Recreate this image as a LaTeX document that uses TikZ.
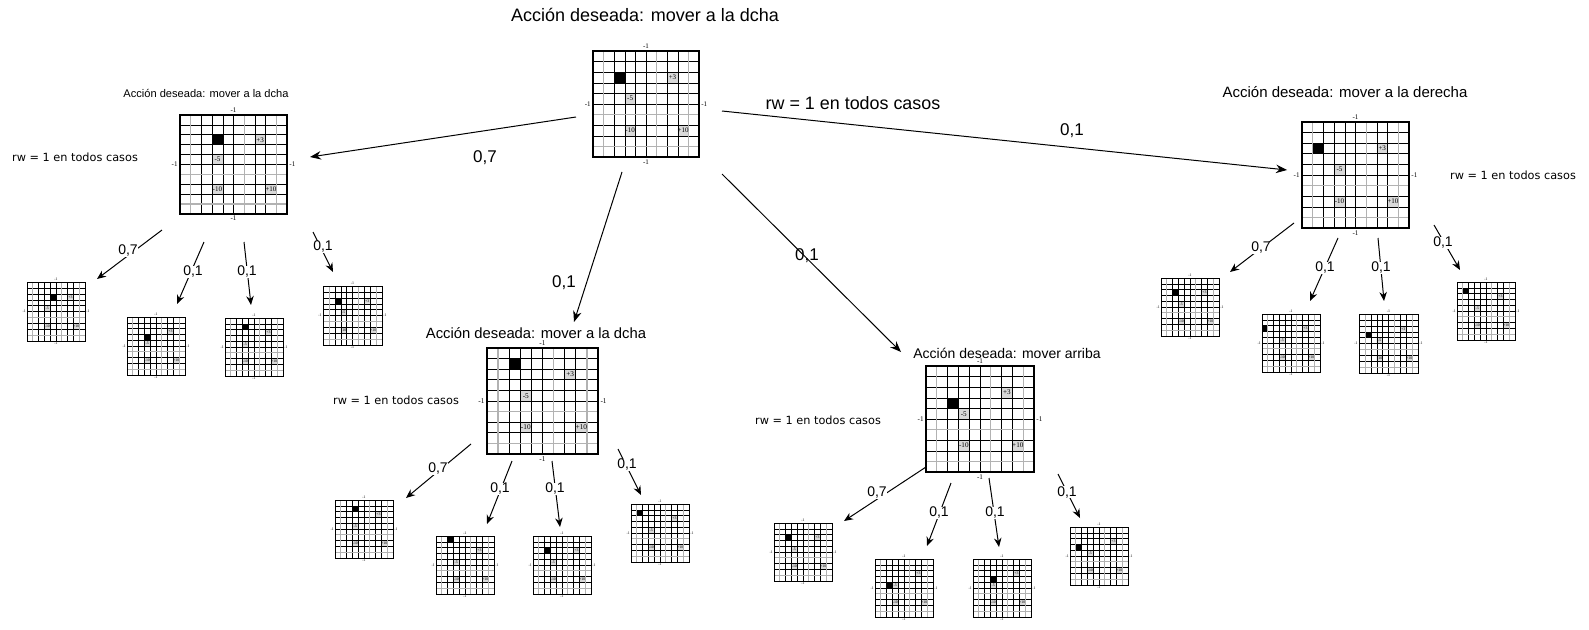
\documentclass[tikz,border=0pt]{standalone}
\usepackage{fontspec}
\setmainfont{Liberation Sans}
\newfontfamily\gridfont{Liberation Serif}
\newfontfamily\rwfont{DejaVu Sans}
\usetikzlibrary{arrows.meta}
\tikzset{
  arr/.style={-{Stealth[length=9pt,width=7.5pt]}, line width=1pt},
  bigarr/.style={-{Stealth[length=11pt,width=8.5pt]}, line width=1pt},
  prob/.style={font=\fontsize{14}{14}\selectfont, inner sep=0},
  bigprob/.style={font=\fontsize{17}{17}\selectfont, inner sep=0},
  rwsmall/.style={font=\rwfont\fontsize{11.3}{12}\selectfont, inner sep=0},
  gtext/.style={font=\gridfont\fontsize{\fsz pt}{\fsz pt}\selectfont, inner sep=0},
  gcell/.style={fill=gray!30},
}
\newcommand\gridmap[7]{%
  \pgfmathsetmacro\gs{#3/106}%
  \pgfmathsetmacro\fsz{7*\gs}%
  \pgfmathsetmacro\lwa{0.6*\gs}%
  \pgfmathsetmacro\lwb{1.2*\gs}%
  \pgfmathsetmacro\lwc{1.4*\gs}%
  \begin{scope}[shift={(#1,#2)},x=#3pt/10,y=-#4pt/10]
    \node[name=#7, minimum width=#3pt, minimum height=#4pt, inner sep=0] at (5,5) {};
    \fill[gray!30] (7,2) rectangle (8,3) (3,4) rectangle (4,5) (3,7) rectangle (4,8) (8,7) rectangle (9,8);
    \fill[black] (#5,#6) rectangle ++(1,1);
    \foreach \i in {2,3,4,5,7,8} {\draw[line width=\lwa pt] (\i,0) -- (\i,10);}
    \foreach \i in {1,2,3,4,5,7,8} {\draw[line width=\lwa pt] (0,\i) -- (10,\i);}
    \foreach \i in {1,6,9} {\draw[gray!60, line width=\lwb pt] (\i,0) -- (\i,10);}
    \foreach \i in {6,9} {\draw[gray!60, line width=\lwb pt] (0,\i) -- (10,\i);}
    \draw[line width=\lwc pt] (0,0) rectangle (10,10);
    \node[gtext, name=#7a] at (7.5,2.5) {+3};
    \node[gtext, name=#7b] at (3.5,4.5) {-5};
    \node[gtext, name=#7c] at (3.5,7.5) {-10};
    \node[gtext, name=#7d] at (8.5,7.5) {+10};
    \node[gtext, name=#7n] at (5,-0.45) {-1};
    \node[gtext, name=#7s] at (5,10.45) {-1};
    \node[gtext, name=#7w] at (-0.5,5) {-1};
    \node[gtext, name=#7e] at (10.5,5) {-1};
  \end{scope}}
\begin{document}
\begin{tikzpicture}[x=1pt,y=-1pt]
\useasboundingbox[fill=white] (0,0) rectangle (1589,629);
% grids
\gridmap{593}{51}{106}{106}{2}{2}{g0}
\gridmap{180}{115}{107}{99}{3}{2}{gL}
\gridmap{487}{348}{111}{106}{2}{1}{gM}
\gridmap{926}{366}{108}{106}{2}{3}{gRM}
\gridmap{1302}{122}{107}{106}{1}{2}{gR}
% grandchildren
\gridmap{27}{282}{58}{59}{4}{2}{gLa}
\gridmap{127}{317}{58}{58}{3}{3}{gLb}
\gridmap{225}{318}{58}{58}{3}{1}{gLc}
\gridmap{323}{286}{59}{59}{2}{2}{gLd}
\gridmap{335}{500}{58}{58}{3}{1}{gMa}
\gridmap{436}{536}{58}{58}{2}{0}{gMb}
\gridmap{533}{536}{58}{58}{2}{2}{gMc}
\gridmap{631}{504}{58}{58}{1}{1}{gMd}
\gridmap{774}{523}{58}{58}{2}{2}{gRMa}
\gridmap{875}{559}{58}{58}{2}{4}{gRMb}
\gridmap{973}{559}{58}{58}{3}{3}{gRMc}
\gridmap{1070}{527}{58}{58}{1}{3}{gRMd}
\gridmap{1161}{278}{58}{58}{2}{2}{gRa}
\gridmap{1262}{314}{58}{58}{0}{2}{gRb}
\gridmap{1359}{314}{59}{59}{1}{3}{gRc}
\gridmap{1457}{282}{58}{58}{1}{1}{gRd}
% titles
\node[name=t0, font=\fontsize{18}{18}\selectfont, inner sep=0] at (645,15) {Acción deseada: mover a la dcha};
\node[name=tL, font=\fontsize{11.1}{12}\selectfont, inner sep=0] at (206,93) {Acción deseada: mover a la dcha};
\node[name=tM, font=\fontsize{14.8}{15}\selectfont, inner sep=0] at (536,333) {Acción deseada: mover a la dcha};
\node[name=tRM, font=\fontsize{14}{15}\selectfont, inner sep=0] at (1007,353) {Acción deseada: mover arriba};
\node[name=tR, font=\fontsize{15}{15}\selectfont, inner sep=0] at (1345,92) {Acción deseada: mover a la derecha};
% rw texts
\node[name=rw0, font=\fontsize{17.9}{18}\selectfont, inner sep=0] at (853,103) {rw = 1 en todos casos};
\node[name=rwL, rwsmall] at (75,157) {rw = 1 en todos casos};
\node[name=rwM, rwsmall] at (396,400) {rw = 1 en todos casos};
\node[name=rwRM, rwsmall] at (818,420) {rw = 1 en todos casos};
\node[name=rwR, rwsmall] at (1513,175) {rw = 1 en todos casos};
% top probabilities
\node[name=p0L, bigprob] at (485,158) {0,7};
\node[name=p0R, bigprob] at (1072,131) {0,1};
\node[name=p0M, bigprob] at (564,283) {0,1};
\node[name=p0RM, bigprob] at (807,256) {0,1};
% top arrows
\coordinate (s0L) at (576,117); \coordinate (e0L) at (310,157);
\coordinate (s0M) at (622,172); \coordinate (e0M) at (574,322);
\coordinate (s0RM) at (722,174); \coordinate (e0RM) at (901,352);
\coordinate (s0R) at (722,111); \coordinate (e0R) at (1287,170);
\draw[bigarr] (s0L) -- (e0L);
\draw[bigarr] (s0M) -- (e0M);
\draw[bigarr] (s0RM) -- (e0RM);
\draw[bigarr] (s0R) -- (e0R);
% left group
\coordinate (sLa) at (162,230); \coordinate (eLa) at (97,279);
\coordinate (sLb) at (204,242); \coordinate (eLb) at (177,304);
\coordinate (sLc) at (244,242); \coordinate (eLc) at (251,305);
\coordinate (sLd) at (313,232); \coordinate (eLd) at (333,272);
\draw[arr] (sLa) -- (eLa); \draw[arr] (sLb) -- (eLb);
\draw[arr] (sLc) -- (eLc); \draw[arr] (sLd) -- (eLd);
\node[name=pLa, prob, fill=white] at (128,251) {0,7};
\node[name=pLb, prob, fill=white] at (193,272) {0,1};
\node[name=pLc, prob, fill=white] at (247,272) {0,1};
\node[name=pLd, prob, fill=white] at (323,247) {0,1};
% middle group
\coordinate (sMa) at (471,444); \coordinate (eMa) at (406,498);
\coordinate (sMb) at (512,461); \coordinate (eMb) at (487,524);
\coordinate (sMc) at (552,461); \coordinate (eMc) at (560,527);
\coordinate (sMd) at (618,449); \coordinate (eMd) at (641,495);
\draw[arr] (sMa) -- (eMa); \draw[arr] (sMb) -- (eMb);
\draw[arr] (sMc) -- (eMc); \draw[arr] (sMd) -- (eMd);
\node[name=pMa, prob, fill=white] at (438,469) {0,7};
\node[name=pMb, prob, fill=white] at (500,489) {0,1};
\node[name=pMc, prob, fill=white] at (555,489) {0,1};
\node[name=pMd, prob, fill=white] at (627,465) {0,1};
% right-middle group
\coordinate (sRMa) at (926,467); \coordinate (eRMa) at (844,521);
\coordinate (sRMb) at (951,483); \coordinate (eRMb) at (927,546);
\coordinate (sRMc) at (989,478); \coordinate (eRMc) at (999,547);
\coordinate (sRMd) at (1058,474); \coordinate (eRMd) at (1080,518);
\draw[arr] (sRMa) -- (eRMa); \draw[arr] (sRMb) -- (eRMb);
\draw[arr] (sRMc) -- (eRMc); \draw[arr] (sRMd) -- (eRMd);
\node[name=pRMa, prob, fill=white] at (877,493) {0,7};
\node[name=pRMb, prob, fill=white] at (939,513) {0,1};
\node[name=pRMc, prob, fill=white] at (995,513) {0,1};
\node[name=pRMd, prob, fill=white] at (1067,492) {0,1};
% right group
\coordinate (sRa) at (1294,223); \coordinate (eRa) at (1230,272);
\coordinate (sRb) at (1338,238); \coordinate (eRb) at (1310,301);
\coordinate (sRc) at (1378,238); \coordinate (eRc) at (1384,301);
\coordinate (sRd) at (1434,225); \coordinate (eRd) at (1460,270);
\draw[arr] (sRa) -- (eRa); \draw[arr] (sRb) -- (eRb);
\draw[arr] (sRc) -- (eRc); \draw[arr] (sRd) -- (eRd);
\node[name=pRa, prob, fill=white] at (1261,248) {0,7};
\node[name=pRb, prob, fill=white] at (1325,268) {0,1};
\node[name=pRc, prob, fill=white] at (1381,268) {0,1};
\node[name=pRd, prob, fill=white] at (1443,243) {0,1};
\end{tikzpicture}
\end{document}
